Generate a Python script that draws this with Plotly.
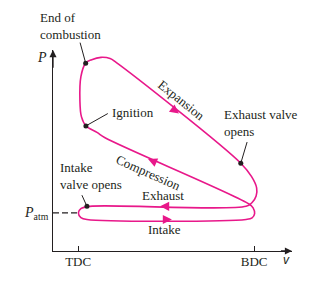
import plotly.graph_objects as go

# ---- data (v in units where TDC=1, BDC=8; P in units where Patm~1) ----
cycle_v = [1.31, 1.13, 1.07, 1.11, 1.30, 1.54, 1.91, 2.27, 2.51, 7.47, 7.90, 8.10, 8.08, 7.92, 7.68,
           1.47, 1.11, 1.01, 1.11, 1.35, 7.68, 7.92, 8.02, 7.96, 7.80, 2.07, 1.75, 1.31]
cycle_P = [3.25, 3.49, 3.92, 4.53, 4.88, 4.97, 5.03, 5.00, 4.90, 2.28, 1.93, 1.64, 1.43, 1.26, 1.16,
           1.16, 1.10, 0.99, 0.87, 0.82, 0.82, 0.86, 0.97, 1.12, 1.22, 2.94, 3.08, 3.25]

# events on the cycle: dot, leader start, label
event_names = ["Ignition", "Exhaust valve<br>opens", "Intake<br>valve opens"]
event_v = [1.31, 7.47, 1.35]
event_P = [3.25, 2.28, 1.16]
leader_v = [2.18, 7.72, 1.15]
leader_P = [3.57, 2.83, 1.45]
label_v = [2.25, 6.72, 0.20]
label_P = [3.60, 3.32, 1.96]

# end of combustion (label sits above the plotting region)
eoc_v, eoc_P = 1.30, 4.88

# stroke labels
stroke_text = ["Expansion", "Compression", "Exhaust", "Intake"]
stroke_v = [5.13, 3.78, 4.38, 4.42]
stroke_P = [3.92, 2.05, 1.43, 0.55]
stroke_angle = [38.7, 24, 0, 0]

# direction arrows (head / tail)
arr_head_v = [5.01, 3.78, 4.26, 4.73]
arr_head_P = [3.57, 2.39, 1.16, 0.82]
arr_tail_v = [4.73, 4.06, 4.54, 4.45]
arr_tail_P = [3.71, 2.31, 1.16, 0.82]

tick_vals = [1, 8]
tick_text = ["TDC", "BDC"]
P_atm = 0.99
v_max = 9.507
P_max = 5.221

PINK = "#e8188a"
INK = "#231f20"
SERIF = "Liberation Serif"

fig = go.Figure()

# Patm dashed reference
fig.add_trace(go.Scatter(x=[0, 1.0], y=[P_atm, P_atm], mode="lines",
                         line=dict(color=INK, width=1.2, dash="6px,3px"),
                         hoverinfo="skip", showlegend=False))

# cycle curve
fig.add_trace(go.Scatter(x=cycle_v, y=cycle_P, mode="lines",
                         line=dict(color=PINK, width=1.6, shape="spline", smoothing=1.0),
                         hoverinfo="skip", showlegend=False))

# leader lines
for i in range(len(event_v)):
    fig.add_trace(go.Scatter(x=[leader_v[i], event_v[i]], y=[leader_P[i], event_P[i]], mode="lines",
                             line=dict(color=INK, width=1), hoverinfo="skip", showlegend=False))

# event dots
fig.add_trace(go.Scatter(x=event_v + [eoc_v], y=event_P + [eoc_P], mode="markers",
                         marker=dict(color=INK, size=5), hoverinfo="skip", showlegend=False,
                         cliponaxis=False))

annotations = []
for i, t in enumerate(event_names):
    annotations.append(dict(x=label_v[i], y=label_P[i], xref="x", yref="y", text=t,
                            showarrow=False, xanchor="left", yanchor="middle", align="left",
                            font=dict(family=SERIF, size=13, color=INK)))
# end of combustion leader (arrow without head) + label
annotations.append(dict(x=eoc_v, y=eoc_P, xref="x", yref="y", ax=-6, ay=-22, text="",
                        showarrow=True, arrowhead=0, arrowwidth=1, arrowcolor=INK, standoff=0))
annotations.append(dict(x=-0.063, y=1.119, xref="paper", yref="paper", text="End of<br>combustion",
                        showarrow=False, xanchor="left", yanchor="middle", align="left",
                        font=dict(family=SERIF, size=13, color=INK)))

for i, t in enumerate(stroke_text):
    annotations.append(dict(x=stroke_v[i], y=stroke_P[i], xref="x", yref="y", text=t,
                            showarrow=False, textangle=stroke_angle[i],
                            xanchor="center", yanchor="middle",
                            font=dict(family=SERIF, size=13, color=INK)))
for i in range(len(arr_head_v)):
    annotations.append(dict(x=arr_head_v[i], y=arr_head_P[i], ax=arr_tail_v[i], ay=arr_tail_P[i],
                            xref="x", yref="y", axref="x", ayref="y", text="", showarrow=True,
                            arrowhead=2, arrowsize=1.3, arrowwidth=1.4, arrowcolor=PINK, standoff=0))

# axis arrowheads
annotations.append(dict(x=v_max, y=0, ax=v_max - 0.5, ay=0, xref="x", yref="y", axref="x", ayref="y",
                        text="", showarrow=True, arrowhead=2, arrowsize=1.1, arrowwidth=1.3,
                        arrowcolor=INK))
annotations.append(dict(x=0, y=P_max, ax=0, ay=P_max - 0.5, xref="x", yref="y", axref="x", ayref="y",
                        text="", showarrow=True, arrowhead=2, arrowsize=1.1, arrowwidth=1.3,
                        arrowcolor=INK))
# axis titles (outside the plotting region -> paper coordinates)
annotations.append(dict(x=-0.046, y=0.962, xref="paper", yref="paper", text="<i>P</i>",
                        xanchor="center", yanchor="middle",
                        showarrow=False, font=dict(family=SERIF, size=14, color=INK)))
annotations.append(dict(x=0.979, y=-0.045, xref="paper", yref="paper", text="<i>v</i>",
                        xanchor="center", yanchor="middle",
                        showarrow=False, font=dict(family="Liberation Sans", size=12, color=INK)))
annotations.append(dict(x=-0.008, y=0.185, xref="paper", yref="paper", xanchor="right",
                        yanchor="middle",
                        text="<i>P</i><sub>atm</sub>", showarrow=False,
                        font=dict(family=SERIF, size=14, color=INK)))

fig.update_layout(
    width=315, height=281,
    margin=dict(l=53, r=23, t=50, b=30),
    paper_bgcolor="white", plot_bgcolor="white",
    showlegend=False,
    annotations=annotations,
    xaxis=dict(range=[0, v_max], showgrid=False, zeroline=False, showline=True, linecolor=INK,
               linewidth=1.3, tickmode="array", tickvals=tick_vals, ticktext=tick_text,
               ticks="inside", ticklen=5, tickwidth=1, tickcolor=INK, ticklabelstandoff=-2,
               tickfont=dict(family=SERIF, size=13, color=INK), fixedrange=True),
    yaxis=dict(range=[0, P_max], showgrid=False, zeroline=False, showline=True, linecolor=INK,
               linewidth=1.3, showticklabels=False, ticks="", fixedrange=True),
)

fig.write_html("out.html")
